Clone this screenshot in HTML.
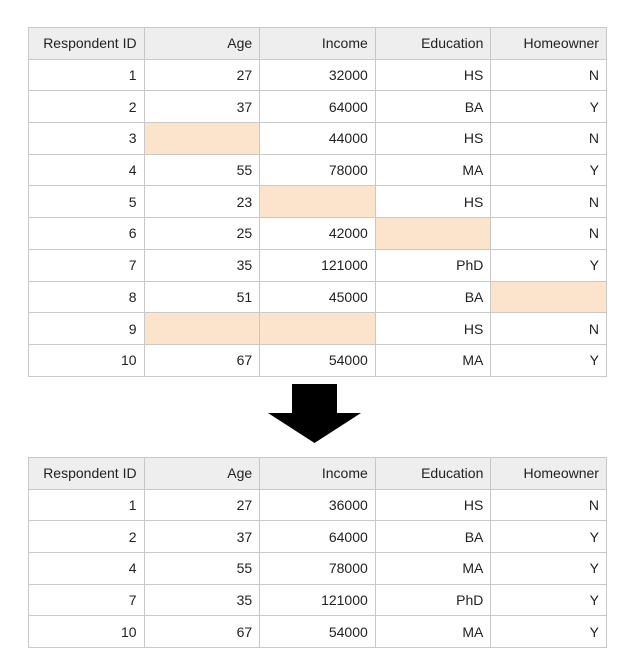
<!DOCTYPE html>
<html><head><meta charset="utf-8"><style>
body{margin:0;width:637px;height:672px;background:#fff;position:relative;font-family:"Liberation Sans",Arial,sans-serif;overflow:hidden}
table{position:absolute;border-collapse:collapse;table-layout:fixed;font-size:14px;color:#222}
td,th{border:1px solid #c8c8c8;text-align:right;padding:0 7px 0 0;font-weight:normal;height:31.7px;box-sizing:border-box}
th{background:#eeeeee}
td.m{background:#fce4cc}
col{width:115.6px}
</style></head><body>
<table style="left:28px;top:27px;width:578px">
<colgroup><col><col><col><col><col></colgroup>
<tr><th>Respondent ID</th><th>Age</th><th>Income</th><th>Education</th><th>Homeowner</th></tr>
<tr><td>1</td><td>27</td><td>32000</td><td>HS</td><td>N</td></tr>
<tr><td>2</td><td>37</td><td>64000</td><td>BA</td><td>Y</td></tr>
<tr><td>3</td><td class="m"></td><td>44000</td><td>HS</td><td>N</td></tr>
<tr><td>4</td><td>55</td><td>78000</td><td>MA</td><td>Y</td></tr>
<tr><td>5</td><td>23</td><td class="m"></td><td>HS</td><td>N</td></tr>
<tr><td>6</td><td>25</td><td>42000</td><td class="m"></td><td>N</td></tr>
<tr><td>7</td><td>35</td><td>121000</td><td>PhD</td><td>Y</td></tr>
<tr><td>8</td><td>51</td><td>45000</td><td>BA</td><td class="m"></td></tr>
<tr><td>9</td><td class="m"></td><td class="m"></td><td>HS</td><td>N</td></tr>
<tr><td>10</td><td>67</td><td>54000</td><td>MA</td><td>Y</td></tr>
</table>
<svg style="position:absolute;left:0;top:0" width="637" height="672"><polygon points="292,384 337,384 337,413 361,413 314.5,443 268,413 292,413" fill="#000"/></svg>
<table style="left:28px;top:457px;width:578px">
<colgroup><col><col><col><col><col></colgroup>
<tr><th>Respondent ID</th><th>Age</th><th>Income</th><th>Education</th><th>Homeowner</th></tr>
<tr><td>1</td><td>27</td><td>36000</td><td>HS</td><td>N</td></tr>
<tr><td>2</td><td>37</td><td>64000</td><td>BA</td><td>Y</td></tr>
<tr><td>4</td><td>55</td><td>78000</td><td>MA</td><td>Y</td></tr>
<tr><td>7</td><td>35</td><td>121000</td><td>PhD</td><td>Y</td></tr>
<tr><td>10</td><td>67</td><td>54000</td><td>MA</td><td>Y</td></tr>
</table>
</body></html>
